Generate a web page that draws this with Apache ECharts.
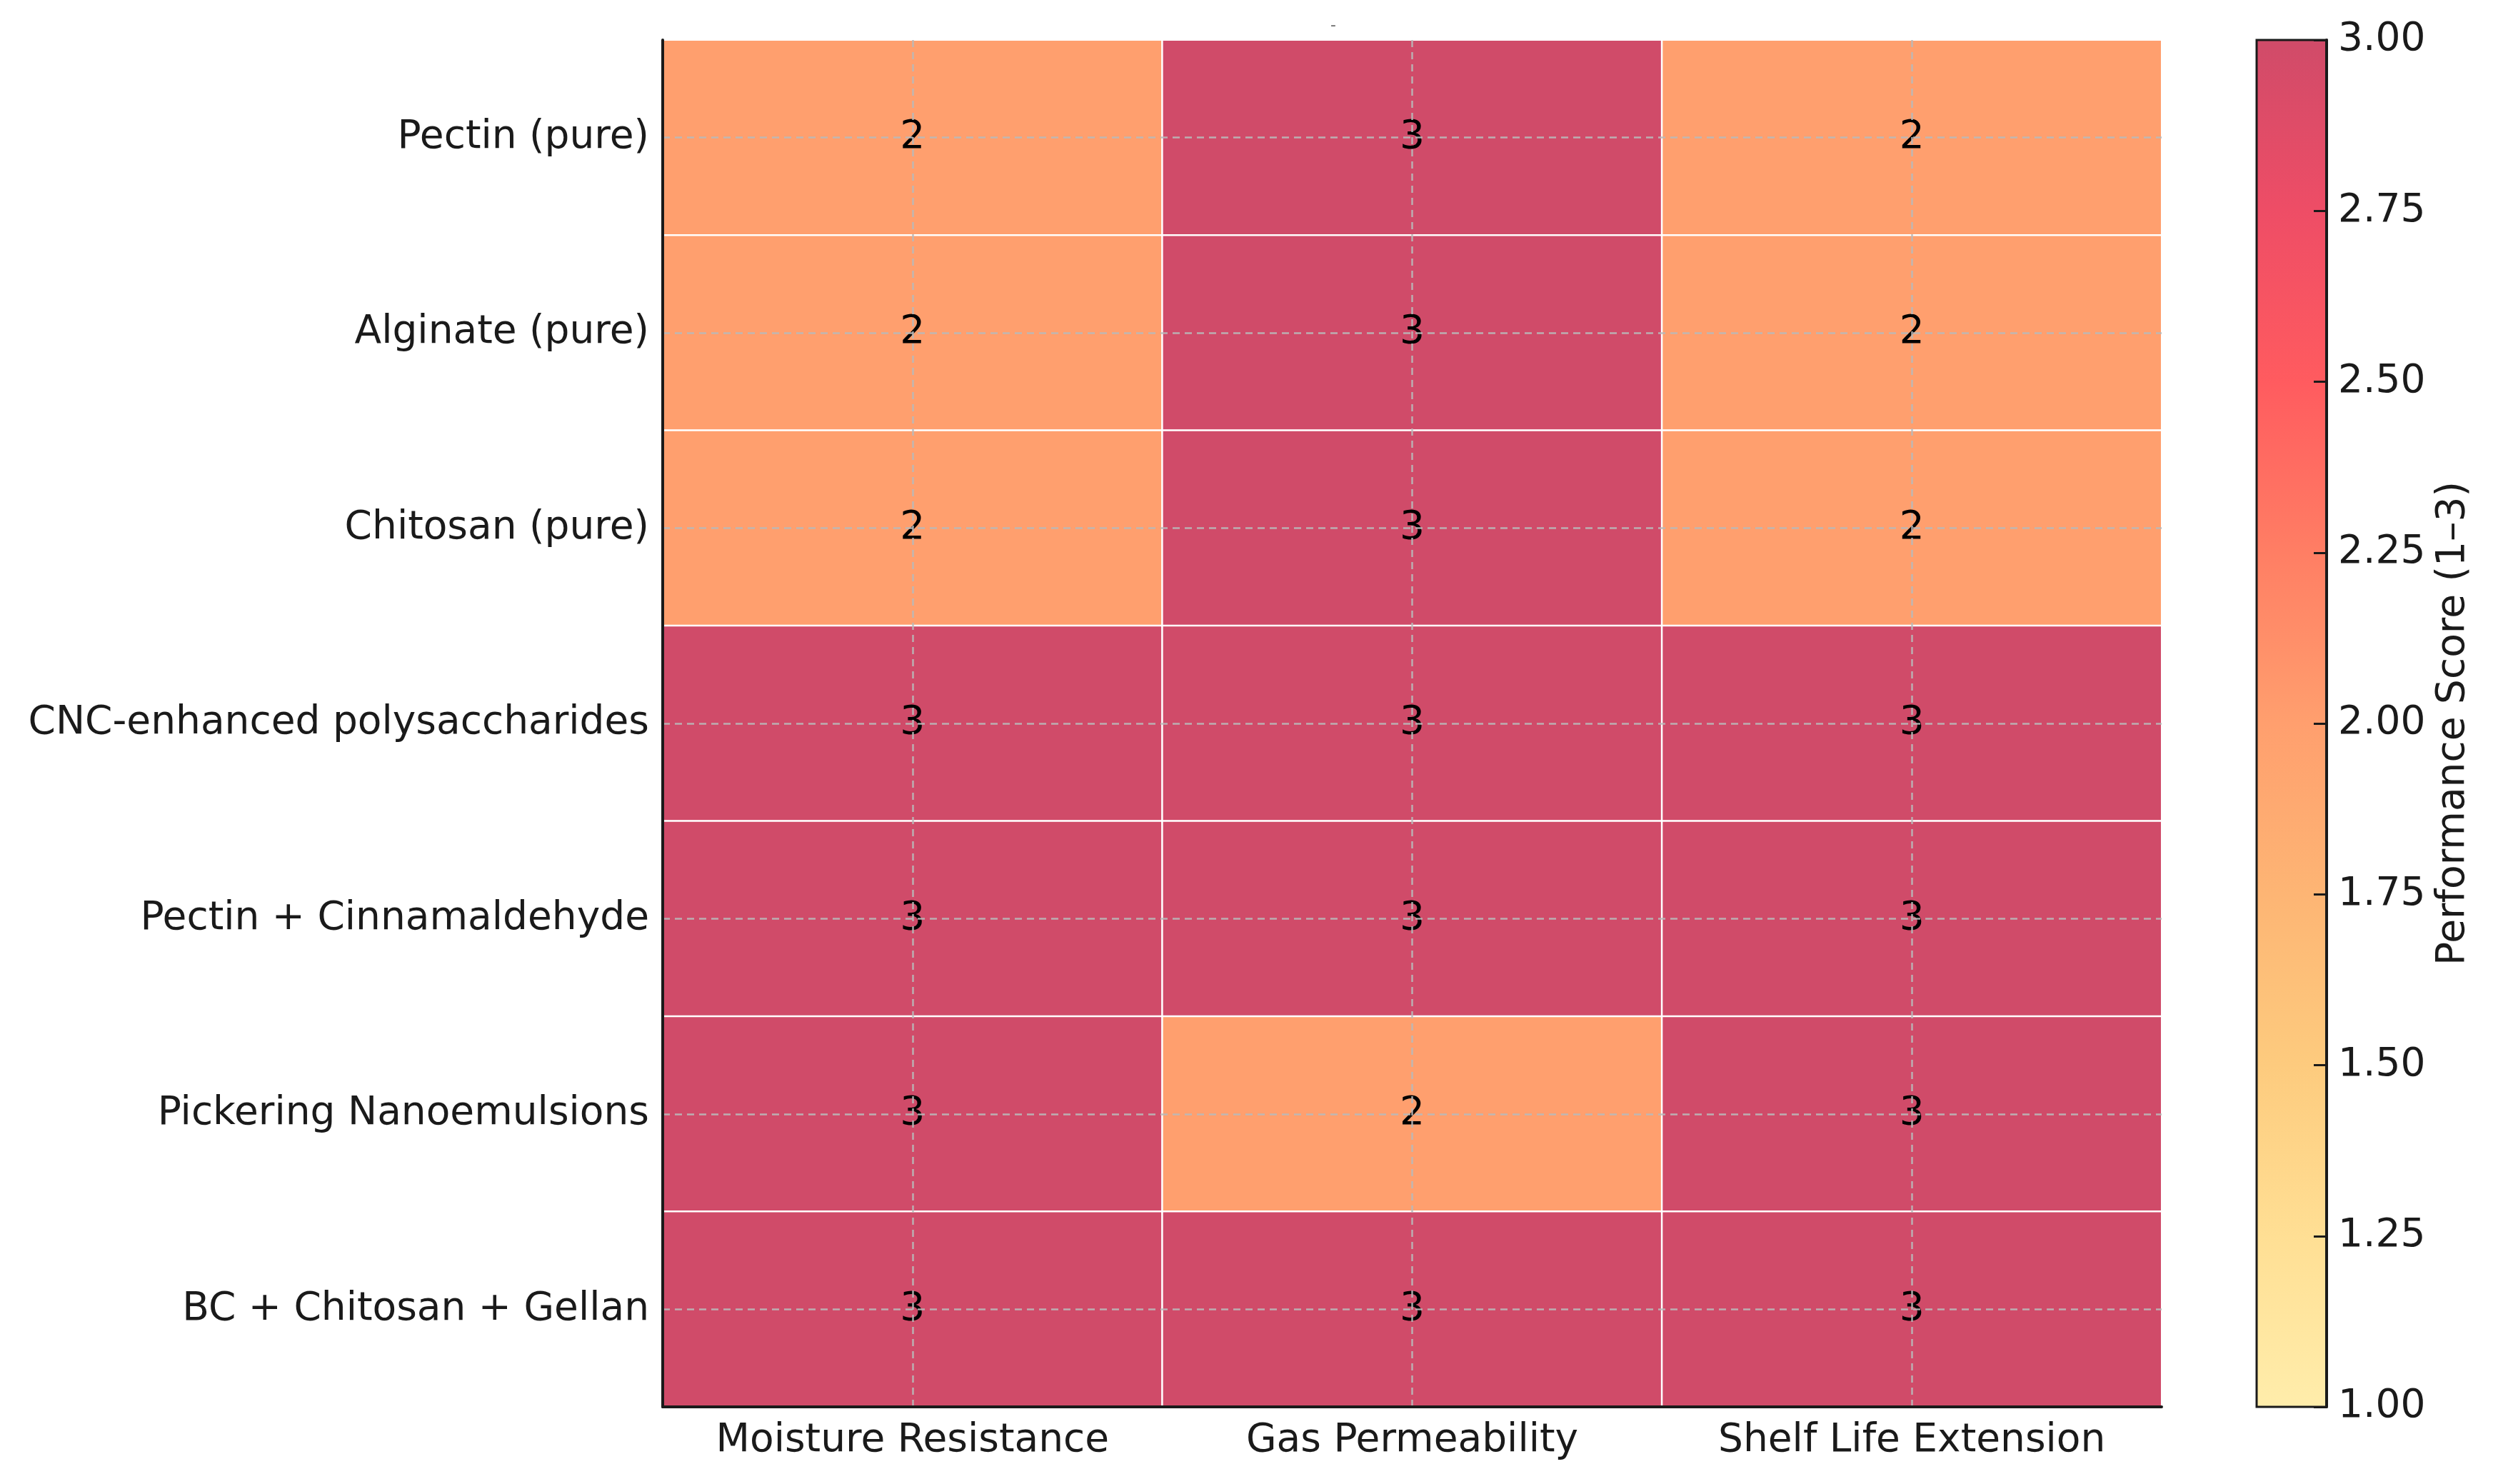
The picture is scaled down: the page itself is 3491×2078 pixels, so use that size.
<!DOCTYPE html>
<html>
<head>
<meta charset="utf-8">
<script src="https://cdn.jsdelivr.net/npm/echarts@6/dist/echarts.min.js"></script>
<style>html,body{margin:0;padding:0;background:#fff}#c{width:3491px;height:2078px}</style>
</head>
<body>
<div id="c"></div>
<script>
const properties = ['Moisture Resistance', 'Gas Permeability', 'Shelf Life Extension'];
const materials = ['Pectin (pure)', 'Alginate (pure)', 'Chitosan (pure)', 'CNC-enhanced polysaccharides', 'Pectin + Cinnamaldehyde', 'Pickering Nanoemulsions', 'BC + Chitosan + Gellan'];
const moistureResistance = [2, 2, 2, 3, 3, 3, 3];
const gasPermeability = [3, 3, 3, 3, 3, 2, 3];
const shelfLifeExtension = [2, 2, 2, 3, 3, 3, 3];
const scoreMin = 1, scoreMax = 3, scoreStep = 0.25;
const colorBarTitle = 'Performance Score (1–3)';
const palette = ['#FFEDAB', '#FFDF94', '#FDCB7E', '#FDB574', '#FF9F6E', '#FF7E64', '#FF5B5F', '#EE4D66', '#D04B69'];

const columns = [moistureResistance, gasPermeability, shelfLifeExtension];
const cells = [];
columns.forEach((col, xi) => col.forEach((v, yi) => cells.push([xi, yi, v])));

const FONT = 'DejaVu Sans';
const chart = echarts.init(document.getElementById('c'), null, {renderer: 'canvas'});
const grad = new echarts.graphic.LinearGradient(0, 0, 0, 1,
  palette.slice().reverse().map((c, i, a) => ({offset: i / (a.length - 1), color: c})));

chart.setOption({
  backgroundColor: '#fff',
  animation: false,
  title: {text: '-', left: 1858, top: 20, textStyle: {fontSize: 22, color: '#666', fontFamily: FONT, fontWeight: 'normal'}},
  grid: [
    {left: 928, top: 56, width: 2099, height: 1914, containLabel: false},
    {left: 3160, top: 56, width: 98, height: 1914, show: true, backgroundColor: grad, borderColor: '#1a1a1a', borderWidth: 3}
  ],
  xAxis: [
    {type: 'category', gridIndex: 0, data: properties, position: 'bottom',
     axisLine: {lineStyle: {color: '#1a1a1a', width: 4}},
     axisTick: {inside: true, alignWithLabel: true, interval: 0, length: 18, lineStyle: {color: '#1a1a1a', width: 3}},
     axisLabel: {interval: 0, fontFamily: FONT, fontSize: 55, color: '#1a1a1a', margin: 20},
     splitLine: {show: false}, z: 10},
    {type: 'value', gridIndex: 1, show: false, min: 0, max: 1}
  ],
  yAxis: [
    {type: 'category', gridIndex: 0, data: materials, inverse: true,
     axisLine: {lineStyle: {color: '#1a1a1a', width: 4}},
     axisTick: {inside: true, alignWithLabel: true, interval: 0, length: 18, lineStyle: {color: '#1a1a1a', width: 3}},
     axisLabel: {interval: 0, fontFamily: FONT, fontSize: 55, color: '#1a1a1a', margin: 19},
     splitLine: {show: false}, z: 10},
    {type: 'value', gridIndex: 1, position: 'right', min: scoreMin, max: scoreMax, interval: scoreStep,
     axisLine: {show: true, onZero: false, lineStyle: {color: '#1a1a1a', width: 4}},
     axisTick: {show: true, inside: true, length: 18, lineStyle: {color: '#1a1a1a', width: 3}},
     axisLabel: {fontFamily: FONT, fontSize: 55, color: '#1a1a1a', margin: 16, formatter: v => v.toFixed(2)},
     splitLine: {show: false},
     name: colorBarTitle, nameLocation: 'middle', nameRotate: 90, nameGap: 150,
     nameTextStyle: {fontFamily: FONT, fontSize: 55, color: '#1a1a1a'}, z: 10}
  ],
  visualMap: {type: 'continuous', show: false, min: scoreMin, max: scoreMax, seriesIndex: 0, dimension: 2,
    inRange: {color: palette}},
  series: [{
    type: 'heatmap', xAxisIndex: 0, yAxisIndex: 0, data: cells,
    itemStyle: {borderColor: '#ffffff', borderWidth: 2.5},
    label: {show: true, fontFamily: FONT, fontSize: 55, color: '#000', formatter: p => String(p.value[2])},
    markLine: {
      silent: true, symbol: 'none', animation: false,
      lineStyle: {color: 'rgba(185,185,185,0.9)', width: 2.5, type: [10, 7]},
      label: {show: false},
      data: properties.map(p => ({xAxis: p})).concat(materials.map(m => ({yAxis: m})))
    }
  }]
});
</script>
</body>
</html>
